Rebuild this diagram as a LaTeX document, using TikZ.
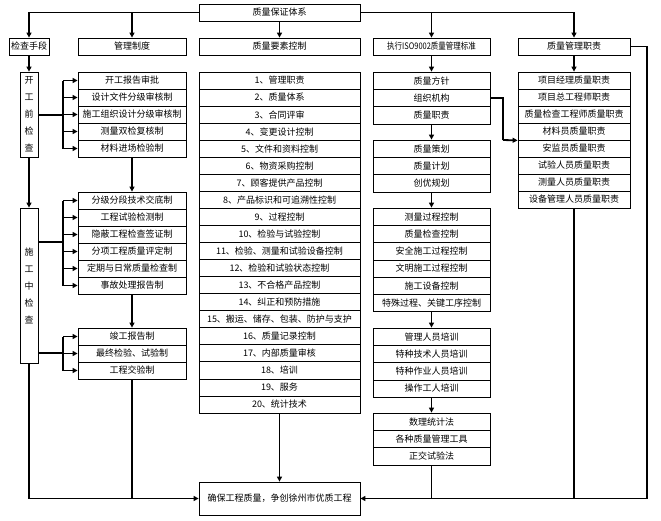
\documentclass[tikz,border=0pt]{standalone}
\usepackage{fontspec}
\setmainfont{Noto Sans CJK SC}
\usetikzlibrary{arrows.meta}
\begin{document}
\begin{tikzpicture}[x=1pt,y=-1pt,
  cell/.style={draw, line width=0.8pt, inner sep=0pt, font=\fontsize{9}{9}\selectfont},
  conn/.style={line width=1.8pt},
  arr/.style={conn, -{Triangle[length=5pt,width=5pt]}}]
\fill[white] (0,0) rectangle (661,520);
\useasboundingbox (0,0) rectangle (661,520);

% top and second row
\node[cell, minimum width=161pt, minimum height=17pt] (top) at (279.5,12.5) {质量保证体系};
\node[cell, minimum width=40pt, minimum height=17pt] (chk) at (29,46.5) {检查手段};
\node[cell, minimum width=108pt, minimum height=17pt] (mgmt) at (132,46.5) {管理制度};
\node[cell, minimum width=161pt, minimum height=17pt] (elem) at (279.5,46.5) {质量要素控制};
\node[cell, minimum width=117pt, minimum height=17pt] (iso) at (431.5,46.5) {\scalebox{0.83}[1]{执行ISO9002质量管理标准}};
\node[cell, minimum width=112pt, minimum height=17pt] (duty) at (574,46.5) {质量管理职责};

% left vertical boxes
\node[cell, minimum width=18pt, minimum height=85pt, align=center, font=\fontsize{9}{17}\selectfont] (pre) at (29,114.5) {开\\工\\前\\检\\查};
\node[cell, minimum width=18pt, minimum height=155pt, align=center, font=\fontsize{9}{17}\selectfont] (mid) at (29,285.5) {施\\工\\中\\检\\查};

% column 2
\foreach \t [count=\i] in {开工报告审批,设计文件分级审核制,施工组织设计分级审核制,测量双检复核制,材料进场检验制}
  \node[cell, minimum width=108pt, minimum height=17pt] (ga\i) at (132,{72+17*(\i-0.5)}) {\t};
\foreach \t [count=\i] in {分级分段技术交底制,工程试验检测制,隐蔽工程检查签证制,分项工程质量评定制,定期与日常质量检查制,事故处理报告制}
  \node[cell, minimum width=108pt, minimum height=17pt] (gb\i) at (132,{192+17*(\i-0.5)}) {\t};
\foreach \t [count=\i] in {竣工报告制,最终检验、试验制,工程交验制}
  \node[cell, minimum width=108pt, minimum height=17pt] (gc\i) at (132,{328+17*(\i-0.5)}) {\t};

% column 3
\foreach \t [count=\i] in {1、管理职责,2、质量体系,3、合同评审,4、变更设计控制,5、文件和资料控制,6、物资采购控制,7、顾客提供产品控制,8、产品标识和可追溯性控制,9、过程控制,10、检验与试验控制,11、检验、测量和试验设备控制,12、检验和试验状态控制,13、不合格产品控制,14、纠正和预防措施,15、搬运、储存、包装、防护与支护,16、质量记录控制,17、内部质量审核,18、培训,19、服务,20、统计技术}
  \node[cell, minimum width=161pt, minimum height=17.05pt] (e\i) at (279.5,{72+17.05*(\i-0.5)}) {\t};

% column 4
\foreach \t [count=\i] in {质量方针,组织机构,质量职责}
  \node[cell, minimum width=117pt, minimum height=17.3pt] (ha\i) at (431.5,{72+17.3*(\i-0.5)}) {\t};
\foreach \t [count=\i] in {质量策划,质量计划,创优规划}
  \node[cell, minimum width=117pt, minimum height=17.3pt] (hb\i) at (431.5,{140+17.3*(\i-0.5)}) {\t};
\foreach \t [count=\i] in {测量过程控制,质量检查控制,安全施工过程控制,文明施工过程控制,施工设备控制,特殊过程、关键工序控制}
  \node[cell, minimum width=117pt, minimum height=17.3pt] (hc\i) at (431.5,{208+17.3*(\i-0.5)}) {\t};
\foreach \t [count=\i] in {管理人员培训,特种技术人员培训,特种作业人员培训,操作工人培训}
  \node[cell, minimum width=117pt, minimum height=17.3pt] (hd\i) at (431.5,{328+17.3*(\i-0.5)}) {\t};
\foreach \t [count=\i] in {数理统计法,各种质量管理工具,正交试验法}
  \node[cell, minimum width=117pt, minimum height=17.3pt] (he\i) at (431.5,{413+17.3*(\i-0.5)}) {\t};

% column 5
\foreach \t [count=\i] in {项目经理质量职责,项目总工程师职责,质量检查工程师质量职责,材料员质量职责,安监员质量职责,试验人员质量职责,测量人员质量职责,设备管理人员质量职责}
  \node[cell, minimum width=112pt, minimum height=17pt] (d\i) at (574,{72+17*(\i-0.5)}) {\t};

% final box
\node[cell, minimum width=161pt, minimum height=33pt] (fin) at (279.5,498.5) {确保工程质量，争创徐州市优质工程};

% top connectors
\draw[arr] (top.west) -| (chk.north);
\draw[arr] (top.east) -| (duty.north);
\draw[arr] (top.west -| mgmt.north) -- (mgmt.north);
\draw[arr] (top.east -| iso.north) -- (iso.north);
\draw[arr] (top.south) -- (elem.north);

% left column
\draw[arr] (chk.south) -- (pre.north);
\draw[arr] (pre.south) -- (mid.north);
\draw[arr] (mid.south) |- (fin.west);

% brackets
\coordinate (b1) at (63,115);
\coordinate (b2) at (63,242);
\coordinate (b3) at (63,353);
\draw[conn] (b1 -| pre.east) -- (b1);
\draw[conn] (ga1.west -| b1) -- (ga5.west -| b1);
\foreach \i in {1,...,5} \draw[arr] (ga\i.west -| b1) -- (ga\i.west);
\draw[conn] (b2 -| mid.east) -- (b2);
\draw[conn] (gb1.west -| b2) -- (gb6.west -| b2);
\foreach \i in {1,...,6} \draw[arr] (gb\i.west -| b2) -- (gb\i.west);
\draw[conn] (b3 -| mid.east) -- (b3);
\draw[conn] (gc1.west -| b3) -- (gc3.west -| b3);
\foreach \i in {1,...,3} \draw[arr] (gc\i.west -| b3) -- (gc\i.west);

% column 2 flow
\draw[arr] (ga5.south) -- (gb1.north);
\draw[arr] (gb6.south) -- (gc1.north);
\draw[conn] (gc3.south) -- (gc3.south |- fin.west);

% column 3 flow
\draw[arr] (e20.south) -- (fin.north);

% column 4 flow
\draw[arr] (iso.south) -- (ha1.north);
\draw[arr] (ha3.south) -- (hb1.north);
\draw[arr] (hb3.south) -- (hc1.north);
\draw[arr] (hc6.south) -- (hd1.north);
\draw[arr] (hd4.south) -- (he1.north);
\coordinate (rc) at (647,498.5);
\draw[arr] (rc) -- (fin.east);
\draw[conn] (he3.south) -- (he3.south |- rc);

% organisation link
\coordinate (oc) at (503,140);
\draw[conn] (ha2.east) -| (oc);
\draw[arr] (oc) -- (d4.south west);

% column 5 flow
\draw[arr] (duty.south) -- (d1.north);
\draw[conn] (d8.south) -- (d8.south |- rc);
\draw[conn] (duty.east) -| (rc);
\end{tikzpicture}
\end{document}
